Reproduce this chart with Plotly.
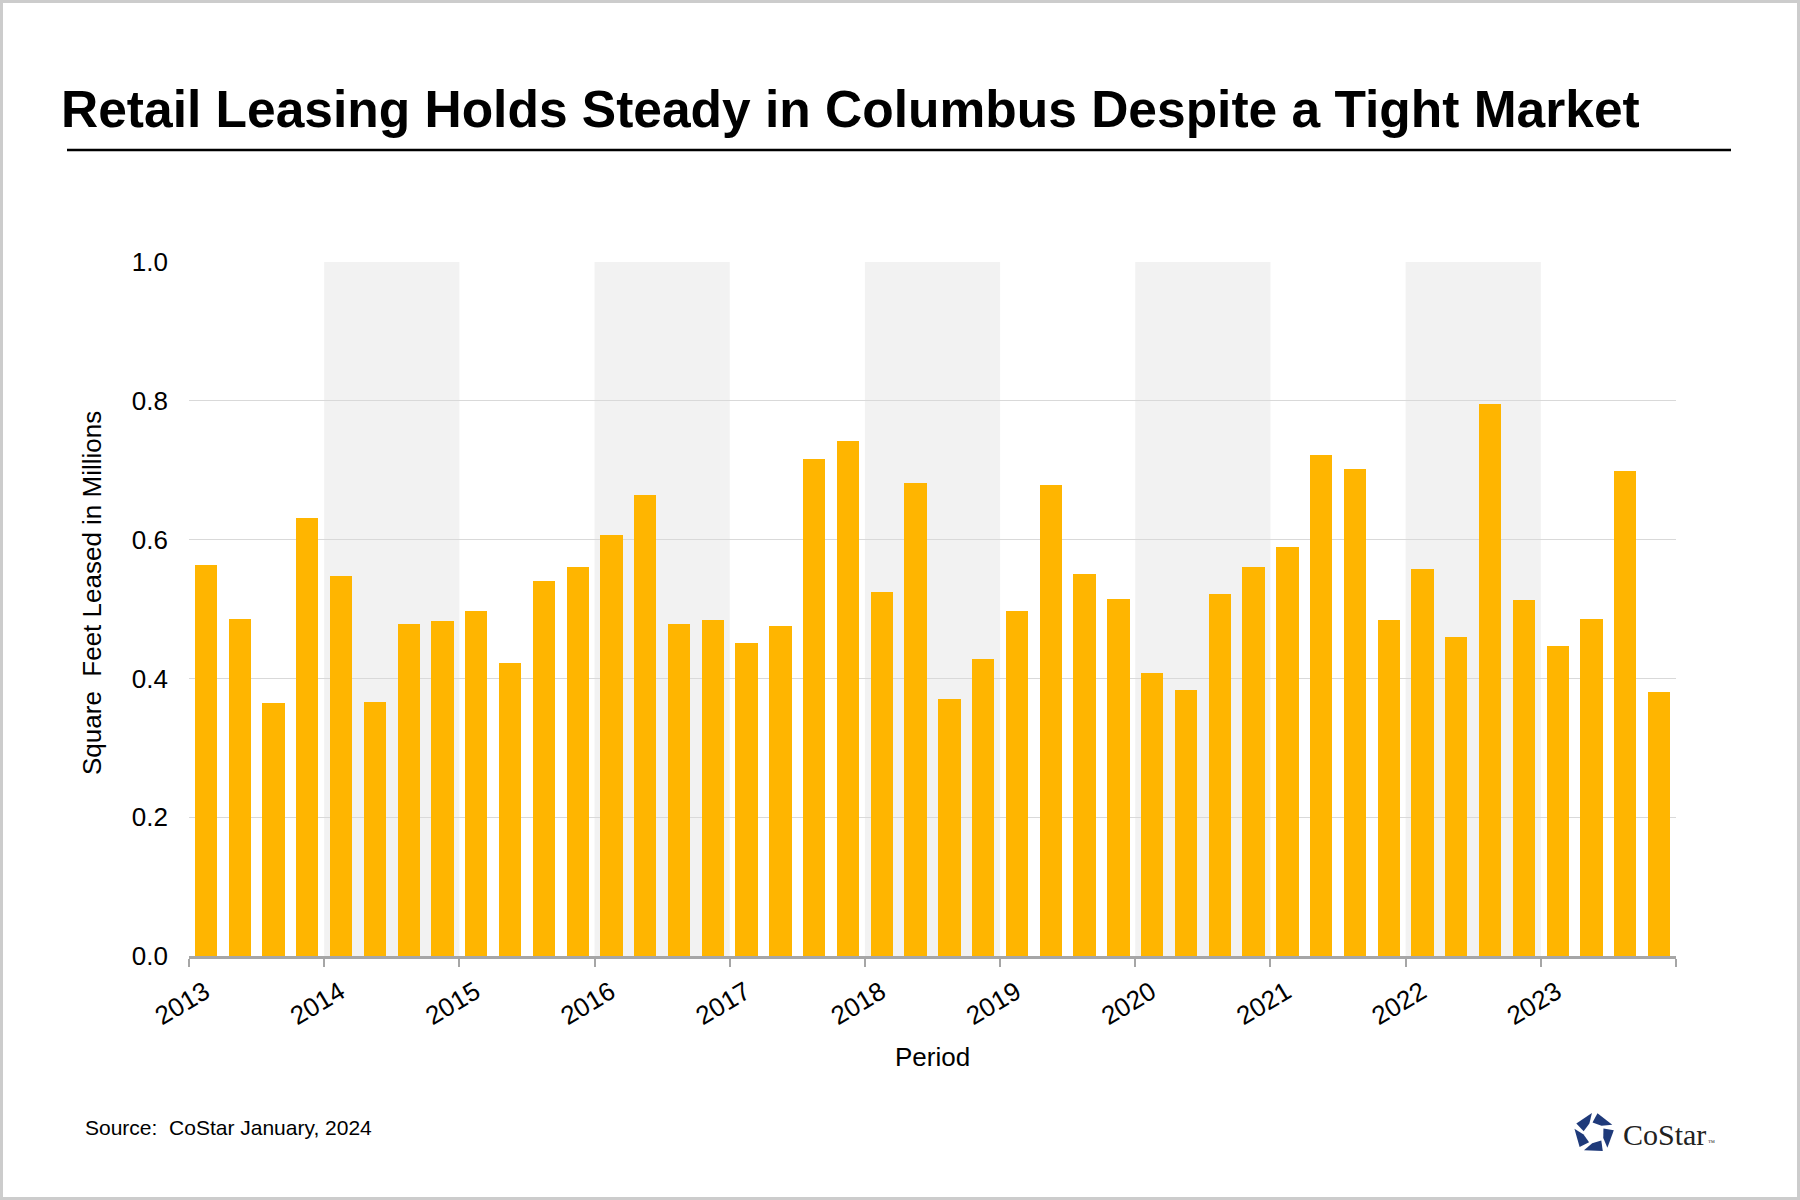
import math
import plotly.graph_objects as go

# ---------------- data ----------------
years = list(range(2013, 2024))
quarters = [1, 2, 3, 4]
leased_msf = [
    0.563, 0.485, 0.365, 0.631,   # 2013
    0.548, 0.366, 0.479, 0.482,   # 2014
    0.497, 0.422, 0.540, 0.560,   # 2015
    0.606, 0.664, 0.479, 0.484,   # 2016
    0.451, 0.475, 0.716, 0.742,   # 2017
    0.525, 0.682, 0.371, 0.428,   # 2018
    0.497, 0.679, 0.551, 0.515,   # 2019
    0.408, 0.383, 0.522, 0.560,   # 2020
    0.590, 0.722, 0.702, 0.484,   # 2021
    0.558, 0.459, 0.795, 0.513,   # 2022
    0.447, 0.485, 0.699, 0.381,   # 2023
]
shaded_years = [2014, 2016, 2018, 2020, 2022]
year_ticks = list(range(2013, 2025))
year_labels = [str(y) for y in range(2013, 2024)] + [""]
y_ticks = [0.0, 0.2, 0.4, 0.6, 0.8, 1.0]

title_text = "Retail Leasing Holds Steady in Columbus Despite a Tight Market"
source_text = "Source:  CoStar January, 2024"

# ---------------- layout geometry ----------------
W, H = 1800, 1200
ML, MR, MT, MB = 189, 124, 262, 244
PW, PH = W - ML - MR, H - MT - MB


def px(xpix):
    return (xpix - ML) / PW


def py(ypix):
    return (H - MB - ypix) / PH


bar_x = [y + (q - 0.5) / 4 for y in years for q in quarters]

BAR = "#FFB500"
GRID = "#d9d9d9"
AXIS = "#a6a6a6"
FONT = "Liberation Sans, Arial, sans-serif"

fig = go.Figure()
fig.add_trace(go.Bar(
    x=bar_x, y=leased_msf, width=0.165,
    marker=dict(color=BAR, line=dict(width=0)),
    hoverinfo="x+y", showlegend=False,
))

shapes = []
for yr in shaded_years:
    shapes.append(dict(type="rect", xref="x", yref="y", x0=yr, x1=yr + 1,
                       y0=0, y1=1.0, fillcolor="#f2f2f2", line=dict(width=0),
                       layer="below"))
# title underline
shapes.append(dict(type="line", xref="paper", yref="paper",
                   x0=px(67), x1=px(1731), y0=py(150), y1=py(150),
                   line=dict(color="#000000", width=2.5)))
# outer frame
shapes.append(dict(type="rect", xref="paper", yref="paper",
                   x0=px(1.5), x1=px(W - 1.5), y0=py(1.5), y1=py(H - 1.5),
                   line=dict(color="#cccccc", width=3), fillcolor="rgba(0,0,0,0)"))

# CoStar logo mark: five twisted pieces of a pentagon ring
cx, cy = 1594, 1133
Ro, Ri = 20, 10.5
for k in range(5):
    base = 90 + k * 72
    a0 = math.radians(base + 6)
    a1 = math.radians(base + 62)
    b0 = math.radians(base + 26)
    b1 = math.radians(base + 80)
    pts = [
        (cx + Ro * math.cos(a0), cy - Ro * math.sin(a0)),
        (cx + Ro * math.cos(a1), cy - Ro * math.sin(a1)),
        (cx + Ri * math.cos(b1), cy - Ri * math.sin(b1)),
        (cx + Ri * math.cos(b0), cy - Ri * math.sin(b0)),
    ]
    path = "M " + " L ".join(f"{px(a):.5f},{py(b):.5f}" for a, b in pts) + " Z"
    shapes.append(dict(type="path", xref="paper", yref="paper", path=path,
                       fillcolor="#1f3a7a", line=dict(width=0)))

annotations = [
    dict(text=f"<b>{title_text}</b>", xref="paper", yref="paper",
         x=px(59), y=py(109), xanchor="left", yanchor="middle", showarrow=False,
         font=dict(family=FONT, size=51.5, color="#000000")),
    dict(text="Square  Feet Leased in Millions", xref="paper", yref="paper",
         x=px(92), y=py(593), xanchor="center", yanchor="middle", showarrow=False,
         textangle=-90, font=dict(family=FONT, size=26, color="#000000")),
    dict(text="Period", xref="paper", yref="paper",
         x=px(932), y=py(1057), xanchor="center", yanchor="middle", showarrow=False,
         font=dict(family=FONT, size=26, color="#000000")),
    dict(text=source_text, xref="paper", yref="paper",
         x=px(83), y=py(1127), xanchor="left", yanchor="middle", showarrow=False,
         font=dict(family=FONT, size=21, color="#000000")),
    dict(text="CoStar<span style='font-size:7px'> ™</span>", xref="paper", yref="paper",
         x=px(1621), y=py(1134), xanchor="left", yanchor="middle", showarrow=False,
         font=dict(family="Liberation Serif, Times New Roman, serif", size=30,
                   color="#222222")),
]

fig.update_layout(
    width=W, height=H,
    margin=dict(l=ML, r=MR, t=MT, b=MB, autoexpand=False),
    paper_bgcolor="#ffffff", plot_bgcolor="#ffffff",
    bargap=0, showlegend=False,
    font=dict(family=FONT, color="#000000"),
    shapes=shapes, annotations=annotations,
    xaxis=dict(
        range=[2013, 2024], tickmode="array", tickvals=year_ticks,
        ticktext=year_labels, tickangle=-31,
        tickfont=dict(family=FONT, size=26, color="#000000"),
        ticks="outside", ticklen=8, tickwidth=2, tickcolor=AXIS,
        ticklabelshift=16,
        showline=True, linecolor=AXIS, linewidth=2.5,
        showgrid=False, zeroline=False, fixedrange=True,
    ),
    xaxis2=dict(
        overlaying="x", anchor="y", side="bottom", range=[2013, 2024],
        tickmode="array", tickvals=year_ticks, ticktext=[""] * len(year_ticks),
        showticklabels=False, ticks="inside", ticklen=8, tickwidth=2,
        tickcolor=AXIS, showline=False, showgrid=False, zeroline=False,
        minor=dict(tickmode="linear", tick0=2013.5, dtick=1, ticks="inside",
                   ticklen=6, tickwidth=2, tickcolor=AXIS),
    ),
    yaxis=dict(
        range=[0, 1.0], tickmode="array", tickvals=y_ticks, tickformat=".1f",
        tickfont=dict(family=FONT, size=26, color="#000000"),
        ticks="", ticklabelstandoff=20,
        showgrid=True, gridcolor=GRID, gridwidth=1,
        showline=False, zeroline=False, fixedrange=True,
    ),
)

fig.write_html(
    "out.html",
    config={"displayModeBar": False},
    post_script="document.body.style.margin='0';document.body.style.padding='0';",
)
